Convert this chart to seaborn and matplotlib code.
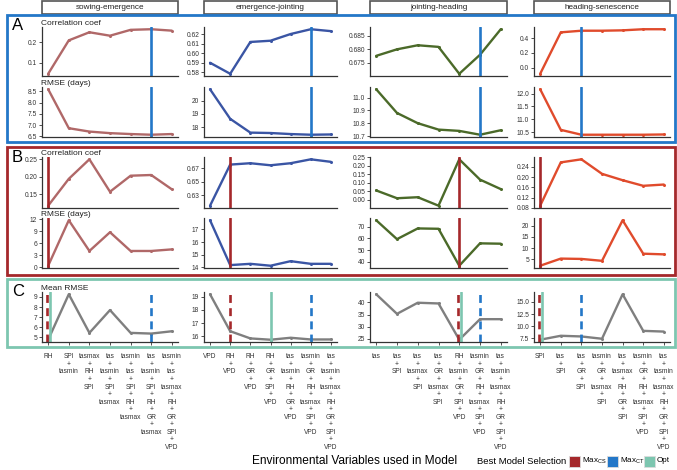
import matplotlib
matplotlib.use("Agg")
import matplotlib.pyplot as plt
from matplotlib.patches import Rectangle
import seaborn as sns
import pandas as pd

sns.set_theme(style="ticks")
plt.rcParams["font.family"] = ["Liberation Sans", "DejaVu Sans"]
plt.rcParams["mathtext.fontset"] = "custom"
plt.rcParams["mathtext.rm"] = "Liberation Sans"

# ---------------- data ----------------
phases = ["sowing-emergence", "emergence-jointing", "jointing-heading", "heading-senescence"]

labels_se = ["RH", "SPI + tasmin", "tasmax + RH + SPI", "tas + tasmin + SPI + tasmax",
             "tasmin + tas + SPI + RH + tasmax", "tas + tasmin + SPI + RH + GR + tasmax",
             "tasmin + tas + tasmax + RH + GR + SPI + VPD"]
labels_ej = ["VPD", "RH + VPD", "RH + GR + VPD", "RH + GR + SPI + VPD",
             "tas + tasmin + RH + GR + VPD", "tasmin + GR + RH + tasmax + SPI + VPD",
             "tas + tasmin + tasmax + RH + GR + SPI + VPD"]
labels_jh = ["tas", "tas + SPI", "tas + tasmax + SPI", "tas + GR + tasmax + SPI",
             "RH + tasmin + GR + SPI + VPD", "tasmin + GR + RH + tasmax + SPI + VPD",
             "tas + tasmin + tasmax + RH + GR + SPI + VPD"]
labels_hs = ["SPI", "tas + SPI", "tas + GR + SPI", "tasmin + GR + tasmax + SPI",
             "tas + tasmax + RH + GR + SPI", "tasmin + GR + RH + tasmax + SPI + VPD",
             "tas + tasmin + tasmax + RH + GR + SPI + VPD"]
tick_labels = [labels_se, labels_ej, labels_jh, labels_hs]

# Panel A (Max CT)
a_corr_se = [0.045, 0.21, 0.25, 0.233, 0.262, 0.265, 0.258]
a_corr_ej = [0.590, 0.5785, 0.6117, 0.613, 0.620, 0.625, 0.623]
a_corr_jh = [0.6776, 0.680, 0.6815, 0.6809, 0.6710, 0.678, 0.6874]
a_corr_hs = [-0.08, 0.478, 0.500, 0.500, 0.505, 0.520, 0.520]
a_rmse_se = [8.59, 6.86, 6.71, 6.64, 6.60, 6.57, 6.60]
a_rmse_ej = [20.88, 18.63, 17.58, 17.55, 17.47, 17.42, 17.44]
a_rmse_jh = [11.065, 10.88, 10.80, 10.75, 10.74, 10.71, 10.745]
a_rmse_hs = [12.17, 10.59, 10.40, 10.40, 10.40, 10.40, 10.41]

# Panel B (Max CS)
b_corr_se = [0.117, 0.194, 0.250, 0.157, 0.203, 0.205, 0.164]
b_corr_ej = [0.615, 0.675, 0.677, 0.674, 0.677, 0.6827, 0.679]
b_corr_jh = [0.054, 0.008, 0.014, -0.036, 0.238, 0.118, 0.062]
b_corr_hs = [0.088, 0.258, 0.270, 0.213, 0.188, 0.166, 0.171]
b_rmse_se = [0.4, 11.8, 4.1, 8.8, 4.1, 4.1, 4.5]
b_rmse_ej = [17.72, 14.18, 14.28, 14.13, 14.49, 14.28, 14.28]
b_rmse_jh = [75.6, 59.4, 68.6, 68.3, 36.6, 55.8, 55.5]
b_rmse_hs = [2.1, 5.3, 5.15, 4.3, 22.5, 7.5, 7.2]

# Panel C (mean RMSE)
c_mean_se = [4.76, 9.27, 5.44, 7.70, 5.44, 5.37, 5.60]
c_mean_ej = [19.2, 16.38, 15.83, 15.73, 15.88, 15.75, 15.75]
c_mean_jh = [43.4, 35.3, 39.9, 39.6, 24.6, 33.1, 33.1]
c_mean_hs = [7.23, 8.04, 7.90, 7.43, 16.55, 9.05, 8.90]

best_ct = [6, 6, 6, 3]   # Max CT selection (model index)
best_cs = [1, 2, 5, 1]   # Max CS selection
best_opt = [1, 4, 5, 1]  # Opt selection

n_vars = [1, 2, 3, 4, 5, 6, 7]

rows = [
    ([a_corr_se, a_corr_ej, a_corr_jh, a_corr_hs], "Correlation coef"),
    ([a_rmse_se, a_rmse_ej, a_rmse_jh, a_rmse_hs], "RMSE (days)"),
    ([b_corr_se, b_corr_ej, b_corr_jh, b_corr_hs], "Correlation coef"),
    ([b_rmse_se, b_rmse_ej, b_rmse_jh, b_rmse_hs], "RMSE (days)"),
    ([c_mean_se, c_mean_ej, c_mean_jh, c_mean_hs], "Mean RMSE"),
]

yticks = [
    [([0.1, 0.2], 1), ([0.58, 0.59, 0.60, 0.61, 0.62], 2), ([0.675, 0.680, 0.685], 3), ([0.0, 0.2, 0.4], 1)],
    [([6.5, 7.0, 7.5, 8.0, 8.5], 1), ([18, 19, 20], 0), ([10.7, 10.8, 10.9, 11.0], 1), ([10.5, 11.0, 11.5, 12.0], 1)],
    [([0.15, 0.20, 0.25], 2), ([0.63, 0.65, 0.67], 2), ([0.00, 0.05, 0.10, 0.15, 0.20, 0.25], 2), ([0.08, 0.12, 0.16, 0.20, 0.24], 2)],
    [([0, 3, 6, 9, 12], 0), ([14, 15, 16, 17], 0), ([40, 50, 60, 70], 0), ([5, 10, 15, 20], 0)],
    [([5, 6, 7, 8, 9], 0), ([16, 17, 18, 19], 0), ([25, 30, 35, 40], 0), ([7.5, 10.0, 12.5, 15.0], 1)],
]

legend_labels = [r"Max$_{\mathrm{CS}}$", r"Max$_{\mathrm{CT}}$", "Opt"]

# ---------------- style ----------------
W, H = 677, 470
col_line = ["#b06868", "#3a55a4", "#4b6a29", "#e04b2c"]
c_gray = "#7f7f7f"
c_ct = "#2377c8"
c_cs = "#a5282b"
c_opt = "#7dc6b0"
txt = "#333333"
tick_fs = 4.8

col_x = [(42, 178), (204, 337), (370, 507), (534, 670)]
row_y = [(27, 76), (87, 137), (157, 208), (218, 268), (292, 342)]

fig = plt.figure(figsize=(W / 100, H / 100), dpi=100)


def rect(x0, y0, x1, y1):
    return [x0 / W, 1 - y1 / H, (x1 - x0) / W, (y1 - y0) / H]


for r, (series, ylab) in enumerate(rows):
    for c in range(4):
        ax = fig.add_axes(rect(col_x[c][0], row_y[r][0], col_x[c][1], row_y[r][1]))
        df = pd.DataFrame({"n": n_vars, "v": series[c]})
        color = c_gray if r == 4 else col_line[c]
        sns.lineplot(data=df, x="n", y="v", ax=ax, color=color, lw=1.7,
                     marker="o", markersize=2.2, markeredgewidth=0)
        if r in (0, 1):
            ax.axvline(best_ct[c], color=c_ct, lw=1.9)
        elif r in (2, 3):
            ax.axvline(best_cs[c], color=c_cs, lw=1.9)
        else:
            same = best_opt[c] == best_cs[c]
            ax.axvline(best_opt[c] + (0.07 if same else 0), color=c_opt, lw=1.9)
            ax.axvline(best_cs[c] - (0.07 if same else 0), color=c_cs, lw=1.9, ls=(0, (3, 2)))
            ax.axvline(best_ct[c], color=c_ct, lw=1.9, ls=(0, (3, 2)))
        ax.set_xlim(0.7, 7.3)
        ax.margins(y=0.05)
        tv, dec = yticks[r][c]
        ax.set_yticks(tv)
        ax.set_yticklabels([f"{v:.{dec}f}" for v in tv])
        ax.set_xlabel("")
        ax.set_ylabel("")
        for s in ("top", "right"):
            ax.spines[s].set_visible(False)
        for s in ("left", "bottom"):
            ax.spines[s].set_color("#333333")
            ax.spines[s].set_linewidth(0.9)
        ax.tick_params(axis="y", labelsize=tick_fs, length=2.2, width=0.6, color=txt,
                       labelcolor=txt, pad=1.2)
        if r == 4:
            ax.set_xticks(n_vars)
            ax.set_xticklabels([l.replace(" + ", "\n+\n") for l in tick_labels[c]],
                               fontsize=tick_fs, linespacing=1.11, va="top", color=txt)
            ax.tick_params(axis="x", length=2.2, width=0.6, color=txt, pad=6)
        else:
            ax.set_xticks([])
        if c == 0:
            ax.text(-0.005, 1.0, ylab, transform=ax.transAxes, fontsize=6.0, color="#222222",
                    ha="left", va="bottom")

# strips
for c, name in enumerate(phases):
    x0, x1 = col_x[c]
    fig.patches.append(Rectangle((x0 / W, 1 - 14 / H), (x1 - x0) / W, 13 / H,
                                 transform=fig.transFigure, fill=True, facecolor="white",
                                 edgecolor="#555555", lw=1.2))
    fig.text((x0 + x1) / 2 / W, 1 - 7.5 / H, name, ha="center", va="center", fontsize=5.9,
             color="#222222")

# frames
for (y0, y1, colr) in [(15, 142, c_ct), (147, 275, c_cs), (278.5, 347, c_opt)]:
    fig.patches.append(Rectangle((7 / W, 1 - y1 / H), (675 - 7) / W, (y1 - y0) / H,
                                 transform=fig.transFigure, fill=False, edgecolor=colr, lw=2))

for lab, y in [("A", 26), ("B", 158), ("C", 291)]:
    fig.text(12 / W, 1 - y / H, lab, fontsize=12, ha="left", va="center", color="black")

fig.text(355 / W, 1 - 461 / H, "Environmental Variables used in Model", ha="center", va="center",
         fontsize=8.6, color="black")
fig.text(477 / W, 1 - 461 / H, "Best Model Selection", ha="left", va="center", fontsize=6.8,
         color="black")
for (sx, tx), colr, lab in zip([(569, 582), (607, 620), (644, 657)], [c_cs, c_ct, c_opt], legend_labels):
    fig.patches.append(Rectangle((sx / W, 1 - 466.5 / H), 10.5 / W, 10.5 / H, transform=fig.transFigure,
                                 facecolor=colr, edgecolor="#dddddd", lw=0.6))
    fig.text(tx / W, 1 - 461 / H, lab, ha="left", va="center", fontsize=5.8, color="black")

fig.savefig("out.png", dpi=100)
